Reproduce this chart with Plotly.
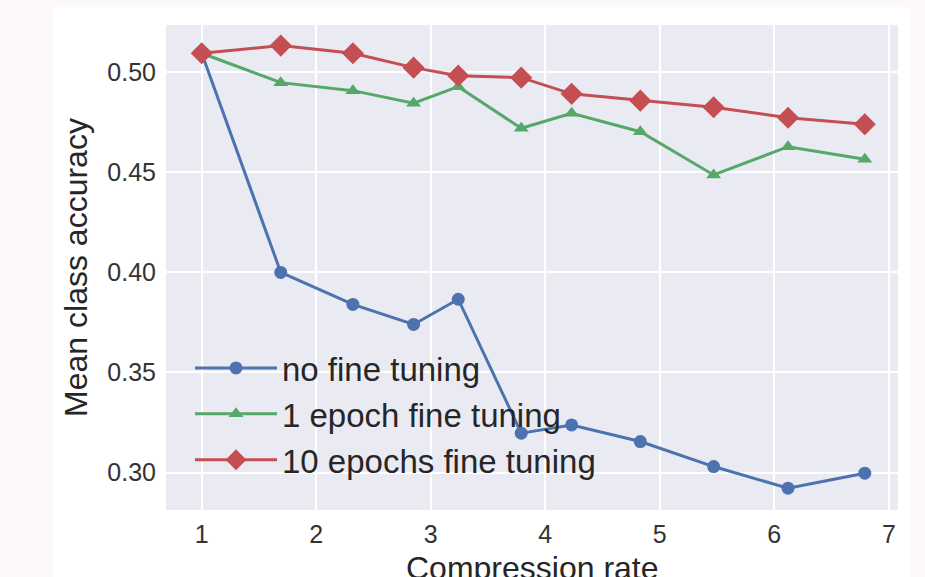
import plotly.graph_objects as go

compression = [1.0, 1.69, 2.32, 2.85, 3.24, 3.79, 4.23, 4.83, 5.47, 6.12, 6.79]
no_ft = [0.5095, 0.400, 0.384, 0.374, 0.3866, 0.3197, 0.3238, 0.3155, 0.3030, 0.2922, 0.2997]
one_epoch = [0.5095, 0.4948, 0.4908, 0.4845, 0.4928, 0.4720, 0.4795, 0.4703, 0.4487, 0.4628, 0.4565]
ten_epochs = [0.5095, 0.5133, 0.5095, 0.5023, 0.4983, 0.4973, 0.4892, 0.4858, 0.4825, 0.4773, 0.4740]
x_title = "Compression rate"
y_title = "Mean class accuracy"

series = [
    ("no fine tuning", no_ft, "#4C72B0", "circle", 13),
    ("1 epoch fine tuning", one_epoch, "#55A868", "triangle-up", 13),
    ("10 epochs fine tuning", ten_epochs, "#C44E52", "diamond", 17),
]

FONT = "Liberation Sans, Arial, DejaVu Sans, sans-serif"
fig = go.Figure()
for name, ys, color, sym, size in series:
    fig.add_trace(go.Scatter(
        x=compression, y=ys, name=name, mode="lines+markers",
        line=dict(color=color, width=3),
        marker=dict(symbol=sym, size=size, color=color, line=dict(width=0)),
    ))

W, H = 925, 577
L, R, T, B = 166, 27, 25, 67
pw, ph = W - L - R, H - T - B

def px(x):
    return (x - L) / pw

def py(y):
    return (H - B - y) / ph

lav = "#FCF8FC"
strips = [
    (0, 53, 0, H), (910, W, 0, H), (53, 910, 0, 7),
]
shapes = [dict(type="rect", xref="paper", yref="paper", layer="below",
               x0=px(a), x1=px(b), y0=py(d), y1=py(c),
               fillcolor=lav, line=dict(width=0)) for a, b, c, d in strips]

fig.update_layout(
    width=W, height=H,
    margin=dict(l=L, r=R, t=T, b=B, autoexpand=False),
    paper_bgcolor="white",
    plot_bgcolor="#EAEAF2",
    font=dict(family=FONT, color="#262626"),
    showlegend=True,
    legend=dict(x=px(190), y=py(340), xanchor="left", yanchor="top",
                bgcolor="rgba(0,0,0,0)", font=dict(size=33, color="#262626"),
                itemwidth=82, tracegroupgap=0),
    shapes=shapes,
    annotations=[dict(text=x_title, xref="paper", yref="paper", x=0.5, y=py(568),
                      xanchor="center", yanchor="middle", showarrow=False,
                      font=dict(size=32, color="#262626"))],
)
fig.update_xaxes(range=[0.688, 7.08], tickvals=[1, 2, 3, 4, 5, 6, 7], automargin=False,
                 showgrid=True, gridcolor="white", gridwidth=1.5, zeroline=False,
                 showline=False, ticks="outside", ticklen=2, tickcolor="rgba(0,0,0,0)",
                 tickfont=dict(size=25, color="#333333"))
fig.update_yaxes(range=[0.2813, 0.5236], tickvals=[0.30, 0.35, 0.40, 0.45, 0.50], automargin=False,
                 ticktext=["0.30", "0.35", "0.40", "0.45", "0.50"],
                 showgrid=True, gridcolor="white", gridwidth=1.5, zeroline=False,
                 showline=False, ticks="outside", ticklen=4, tickcolor="rgba(0,0,0,0)",
                 tickfont=dict(size=25, color="#333333"),
                 title=dict(text=y_title, font=dict(size=32, color="#262626"), standoff=10))

fig.write_html("out.html")
